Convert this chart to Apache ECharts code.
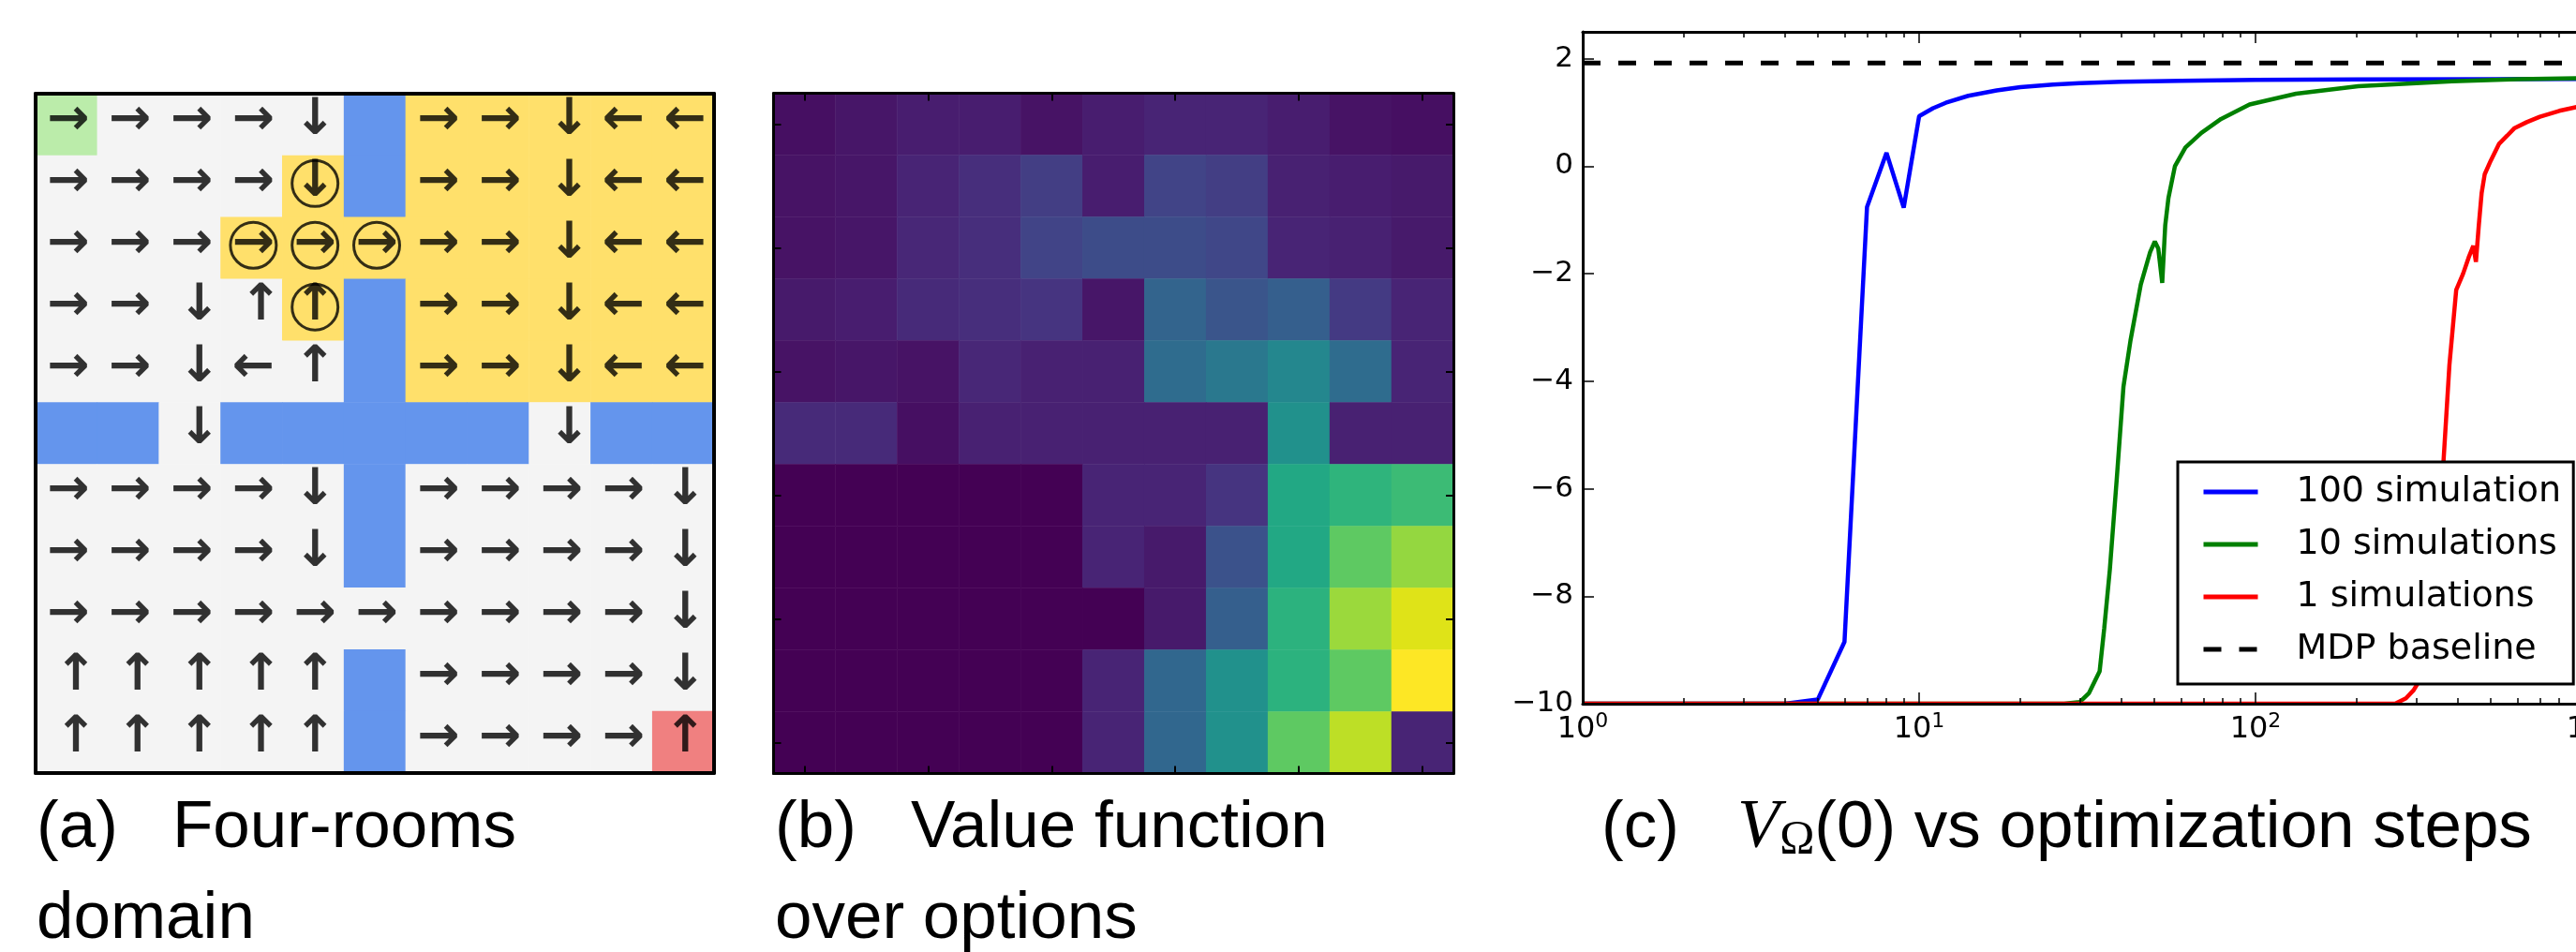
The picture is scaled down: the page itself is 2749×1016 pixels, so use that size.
<!DOCTYPE html>
<html>
<head>
<meta charset="utf-8">
<script src="https://cdn.jsdelivr.net/npm/echarts@6/dist/echarts.min.js"></script>
<style>
html,body{margin:0;padding:0;background:#ffffff;overflow:hidden;}
#c{width:2800px;height:1016px;}
</style>
</head>
<body>
<div id="c"></div>
<script>
// ---------------- DATA ----------------
// (a) Four-rooms domain: '.' floor, 'W' wall, 'Y' option region, 'S' start, 'G' goal
const roomLayout = [
  "S....WYYYYY",
  "....YWYYYYY",
  "...YYYYYYYY",
  "....YWYYYYY",
  ".....WYYYYY",
  "WW.WWWWW.WW",
  ".....W.....",
  ".....W.....",
  "...........",
  ".....W.....",
  ".....W....G"
];
// policy arrows: R right, L left, U up, D down, '.' none
const policyArrows = [
  "RRRRD.RRDLL",
  "RRRRD.RRDLL",
  "RRRRRRRRDLL",
  "RRDUU.RRDLL",
  "RRDLU.RRDLL",
  "..D.....D..",
  "RRRRD.RRRRD",
  "RRRRD.RRRRD",
  "RRRRRRRRRRD",
  "UUUUU.RRRRD",
  "UUUUU.RRRRU"
];
// circled cells [col,row]
const circledCells = [[4,1],[3,2],[4,2],[5,2],[4,3]];

// (b) value function over options (normalised 0..1), row 0 = top
const optionValues = [
  [0.04,0.06,0.08,0.08,0.05,0.08,0.10,0.10,0.08,0.05,0.04],
  [0.05,0.06,0.10,0.13,0.18,0.08,0.20,0.18,0.09,0.08,0.07],
  [0.05,0.06,0.11,0.13,0.20,0.23,0.23,0.21,0.10,0.09,0.07],
  [0.07,0.08,0.12,0.13,0.15,0.06,0.32,0.26,0.30,0.17,0.10],
  [0.05,0.06,0.05,0.11,0.09,0.09,0.35,0.40,0.46,0.35,0.10],
  [0.12,0.12,0.04,0.09,0.09,0.09,0.09,0.09,0.50,0.09,0.09],
  [0.00,0.00,0.00,0.00,0.00,0.10,0.10,0.15,0.60,0.65,0.68],
  [0.00,0.00,0.00,0.00,0.00,0.10,0.07,0.25,0.60,0.75,0.84],
  [0.00,0.00,0.00,0.00,0.00,0.00,0.07,0.30,0.64,0.85,0.95],
  [0.00,0.00,0.00,0.00,0.00,0.10,0.33,0.50,0.64,0.75,1.00],
  [0.00,0.00,0.00,0.00,0.00,0.10,0.33,0.50,0.75,0.90,0.10]
];
const viridis = ['#440154','#471365','#482475','#463480','#414487','#3b528b','#355f8d','#2f6c8e','#2a788e','#25848e','#21918c','#1e9c89','#22a884','#2fb47c','#44bf70','#5ec962','#7ad151','#9bd93c','#bddf26','#dfe318','#fde725'];

// (c) V_Omega(0) vs optimization steps
const steps100 = [1,2,3,4,5,6,7,8,9,10,11,12,14,17,20,25,30,40,60,100,200,500,1000];
const vals100  = [-10,-10,-10,-10,-9.92,-8.85,-0.76,0.25,-0.77,0.93,1.08,1.18,1.31,1.41,1.47,1.52,1.545,1.57,1.59,1.605,1.615,1.62,1.625];
const steps10 = [1,10,27,30,32,34.4,35.5,36.9,38.7,40.5,42.5,45.6,48.6,50.2,51.4,52.8,53.9,55.1,57.6,61.9,69,79,96,132,202,384,600,1000];
const vals10  = [-10,-10,-10,-9.97,-9.8,-9.4,-8.6,-7.5,-5.8,-4.1,-3.24,-2.2,-1.6,-1.4,-1.53,-2.17,-1.1,-0.59,0.0,0.35,0.62,0.88,1.15,1.35,1.49,1.58,1.62,1.64];
const steps1 = [1,100,260,280,295,305,320,340,362,377,395,414,430,444,452,461,470,480,500,530,560,589,640,700,800,900,1000];
const vals1  = [-10,-10,-10,-9.9,-9.75,-9.6,-9.0,-7.5,-5.5,-3.7,-2.3,-2.0,-1.7,-1.48,-1.78,-1.1,-0.5,-0.15,0.1,0.42,0.57,0.71,0.82,0.92,1.03,1.1,1.15];
const mdpBaseline = 1.92;
const stepsRange = [1, 1000];
const seriesNames = ['100 simulation','10 simulations','1 simulations','MDP baseline'];
const yTicks = [-10,-8,-6,-4,-2,0,2];

const captions = {
  a: ['(a)', 'Four-rooms', 'domain'],
  b: ['(b)', 'Value function', 'over options'],
  c: ['(c)', 'V', 'Ω', '(0) vs optimization steps']
};

// ---------------- BUILD ----------------
const N = roomLayout.length;
const cats = Array.from({length: N}, (_, i) => i);
const kindIndex = {'.':0, 'W':1, 'Y':2, 'S':3, 'G':4};
const kindColors = ['#f4f4f4', '#6495ed', '#ffe06b', '#bbecaa', '#f08080'];
const arrowChar = {R:'\u2192', L:'\u2190', U:'\u2191', D:'\u2193'};

const roomData = [];
roomLayout.forEach((row, r) => row.split('').forEach((ch, c) => roomData.push([c, r, kindIndex[ch]])));

const arrowData = [];
policyArrows.forEach((row, r) => row.split('').forEach((ch, c) => {
  if (ch === '.') return;
  const vertical = (ch === 'U' || ch === 'D');
  const dx = vertical ? ((c === 4 || c === 10) ? 2 : 10) : 2;
  arrowData.push({value: [c, r], name: arrowChar[ch], label: {offset: [dx, -4]}});
}));

const valueData = [];
optionValues.forEach((row, r) => row.forEach((v, c) => valueData.push([c, r, v])));

const pairs = (xs, ys) => xs.map((x, i) => [x, ys[i]]);
const minorTicks = [];
[1, 10, 100].forEach(d => { for (let k = 2; k <= 9; k++) minorTicks.push(d * k); });

const FONT = 'DejaVu Sans';
const CAP = 'Liberation Sans';
const capRich = {
  l: {fontFamily: CAP, fontWeight: 'normal', fontSize: 71, width: 145, lineHeight: 97, color: '#000'},
  t: {fontFamily: CAP, fontWeight: 'normal', fontSize: 71, lineHeight: 97, color: '#000'},
  v: {fontFamily: 'Liberation Serif', fontWeight: 'normal', fontStyle: 'italic', fontSize: 74, lineHeight: 97, color: '#000'},
  s: {fontFamily: 'Liberation Serif', fontWeight: 'normal', fontSize: 50, lineHeight: 73, padding: [24, 0, 0, 0], color: '#000'}
};

const borderAxis = (grid, pos, w, ticks) => ({
  type: 'category', data: cats, gridIndex: grid, position: pos,
  inverse: (pos === 'left' || pos === 'right'),
  boundaryGap: true, z: 10,
  axisLine: {show: true, onZero: false, lineStyle: {color: '#000', width: w}},
  axisTick: ticks ? {show: true, inside: true, length: 8, alignWithLabel: true,
                     interval: (i) => i % 2 === 0, lineStyle: {color: '#000', width: 2}} : {show: false},
  axisLabel: {show: false}, splitLine: {show: false}
});

const logAxis = (pos, major, showLabel) => ({
  type: 'log', logBase: 10, gridIndex: 2, position: pos,
  min: stepsRange[0], max: stepsRange[1], z: 5,
  axisLine: {show: major, onZero: false, lineStyle: {color: '#000', width: 3}},
  axisTick: major ? {show: true, inside: true, length: 12, lineStyle: {color: '#000', width: 1.5}}
                  : {show: true, inside: true, length: 6, customValues: minorTicks, lineStyle: {color: '#000', width: 1.5}},
  axisLabel: showLabel ? {
    show: true, margin: 8,
    formatter: (v) => '{b|10}{s|' + Math.round(Math.log10(v)) + '}',
    rich: {
      b: {fontFamily: FONT, fontSize: 32, lineHeight: 36, verticalAlign: 'bottom', color: '#000'},
      s: {fontFamily: FONT, fontSize: 22, lineHeight: 22, verticalAlign: 'top', color: '#000'}
    }
  } : {show: false},
  splitLine: {show: false}, minorSplitLine: {show: false}
});

const option = {
  animation: false,
  backgroundColor: '#ffffff',
  title: [
    {left: 39, top: 836, padding: 0, text: '{l|' + captions.a[0] + '}{t|' + captions.a[1] + '}\n{t|' + captions.a[2] + '}', textStyle: {fontWeight: 'normal', rich: capRich}},
    {left: 827, top: 836, padding: 0, text: '{l|' + captions.b[0] + '}{t|' + captions.b[1] + '}\n{t|' + captions.b[2] + '}', textStyle: {fontWeight: 'normal', rich: capRich}},
    {left: 1709, top: 836, padding: 0, text: '{l|' + captions.c[0] + '}{v|' + captions.c[1] + '}{s|' + captions.c[2] + '}{t|' + captions.c[3] + '}', textStyle: {fontWeight: 'normal', rich: capRich}}
  ],
  grid: [
    {left: 38, top: 100, width: 724, height: 725},
    {left: 825.5, top: 99.5, width: 725.5, height: 726},
    {left: 1689, top: 34, width: 1077, height: 717}
  ],
  xAxis: [
    borderAxis(0, 'bottom', 4, false),
    borderAxis(0, 'top', 4, false),
    borderAxis(1, 'bottom', 3, true),
    borderAxis(1, 'top', 3, true),
    logAxis('bottom', true, true),
    logAxis('bottom', false, false),
    logAxis('top', true, false),
    logAxis('top', false, false)
  ],
  yAxis: [
    borderAxis(0, 'left', 4, false),
    borderAxis(0, 'right', 4, false),
    borderAxis(1, 'left', 3, true),
    borderAxis(1, 'right', 3, true),
    {
      type: 'value', gridIndex: 2, min: -10, max: 2.5, interval: 2, z: 5,
      axisLine: {show: true, onZero: false, lineStyle: {color: '#000', width: 3}},
      axisTick: {show: true, inside: true, length: 12, lineStyle: {color: '#000', width: 1.5}},
      axisLabel: {
        show: true, margin: 10, fontFamily: FONT, fontSize: 31, color: '#000',
        formatter: (v) => yTicks.indexOf(v) >= 0 ? (v < 0 ? '\u2212' + (-v) : String(v)) : ''
      },
      splitLine: {show: false}
    }
  ],
  visualMap: [
    {type: 'piecewise', show: false, seriesIndex: 0, dimension: 2,
     pieces: kindColors.map((c, i) => ({value: i, color: c}))},
    {type: 'continuous', show: false, seriesIndex: 3, dimension: 2, min: 0, max: 1,
     inRange: {color: viridis}}
  ],
  legend: {
    data: seriesNames, orient: 'vertical', left: 2324, top: 493,
    padding: [13, 13, 18, 25], itemGap: 18, itemWidth: 58, itemHeight: 14,
    backgroundColor: '#ffffff', borderColor: '#000', borderWidth: 3, borderRadius: 0,
    selectedMode: false, z: 20,
    itemStyle: {opacity: 0},
    lineStyle: {width: 5},
    textStyle: {fontFamily: FONT, fontSize: 38, color: '#000', lineHeight: 38, padding: [0, 0, 0, 36]}
  },
  series: [
    {type: 'heatmap', xAxisIndex: 0, yAxisIndex: 0, data: roomData, emphasis: {disabled: true},
     itemStyle: {borderWidth: 0}},
    {type: 'scatter', xAxisIndex: 0, yAxisIndex: 0, data: arrowData, symbol: 'circle', symbolSize: 0,
     z: 4, silent: true,
     label: {show: true, position: 'inside', formatter: (p) => p.name,
             fontFamily: FONT, fontWeight: 'bold', fontSize: 54, color: '#000'}},
    {type: 'scatter', xAxisIndex: 0, yAxisIndex: 0, data: circledCells, symbol: 'circle', symbolSize: 49,
     symbolOffset: [2, -3], z: 5, silent: true,
     itemStyle: {color: 'rgba(0,0,0,0)', borderColor: '#000', borderWidth: 3}},
    {type: 'heatmap', xAxisIndex: 2, yAxisIndex: 2, data: valueData, emphasis: {disabled: true},
     itemStyle: {borderWidth: 0}},
    {type: 'line', name: seriesNames[0], xAxisIndex: 4, yAxisIndex: 4, data: pairs(steps100, vals100),
     symbol: 'none', showSymbol: false, color: '#0000ff', lineStyle: {color: '#0000ff', width: 4.5}},
    {type: 'line', name: seriesNames[1], xAxisIndex: 4, yAxisIndex: 4, data: pairs(steps10, vals10),
     symbol: 'none', showSymbol: false, color: '#008000', lineStyle: {color: '#008000', width: 4.5}},
    {type: 'line', name: seriesNames[2], xAxisIndex: 4, yAxisIndex: 4, data: pairs(steps1, vals1),
     symbol: 'none', showSymbol: false, color: '#ff0000', lineStyle: {color: '#ff0000', width: 4.5}},
    {type: 'line', name: seriesNames[3], xAxisIndex: 4, yAxisIndex: 4,
     data: pairs(stepsRange, [mdpBaseline, mdpBaseline]),
     symbol: 'none', showSymbol: false, color: '#000000', lineStyle: {color: '#000000', width: 5, type: [19, 19]}}
  ]
};

const chart = echarts.init(document.getElementById('c'), null, {renderer: 'canvas', width: 2800, height: 1016});
chart.setOption(option);
</script>
</body>
</html>
